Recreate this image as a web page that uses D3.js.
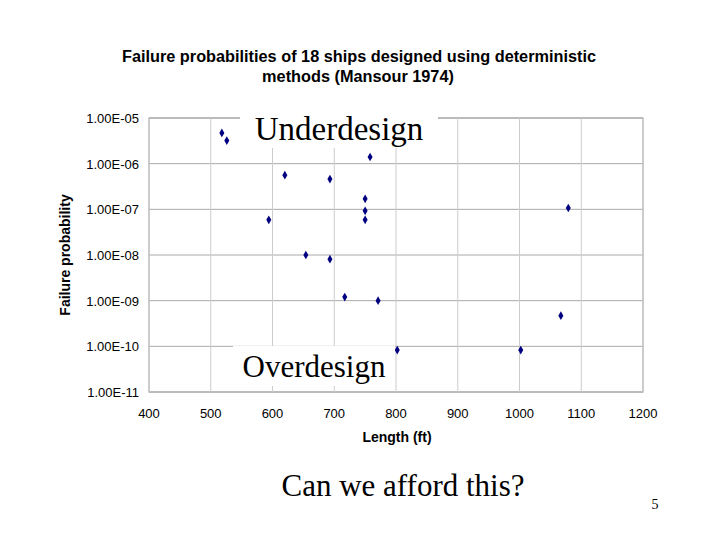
<!DOCTYPE html>
<html><head><meta charset="utf-8">
<script src="https://cdn.jsdelivr.net/npm/d3@7"></script>
<style>body{margin:0;background:#fff}</style>
</head><body>
<svg width="720" height="540"></svg>
<script>
var lengths = [518, 526, 758, 620, 693, 750, 750, 750, 1079, 594, 654, 693, 717, 771, 1067, 802, 1002];
var probs = [4.7e-6, 3.2e-6, 1.4e-6, 5.6e-7, 4.6e-7, 1.7e-7, 9.3e-8, 5.9e-8, 1.07e-7, 5.9e-8, 1.0e-8, 8.1e-9, 1.2e-9, 1.0e-9, 4.7e-10, 8.3e-11, 8.3e-11];
var xTicks = [400, 500, 600, 700, 800, 900, 1000, 1100, 1200];
var yTicks = [1e-5, 1e-6, 1e-7, 1e-8, 1e-9, 1e-10, 1e-11];
var yLabels = ["1.00E-05", "1.00E-06", "1.00E-07", "1.00E-08", "1.00E-09", "1.00E-10", "1.00E-11"];

var svg = d3.select("svg");
var x = d3.scaleLinear().domain([400, 1200]).range([149, 643]);
var y = d3.scaleLog().domain([1e-11, 1e-5]).range([392, 118]);

svg.append("rect").attr("x", 149).attr("y", 118).attr("width", 494).attr("height", 274)
  .attr("fill", "#fff").attr("stroke", "#999");

svg.selectAll(".gy").data(yTicks).enter().append("line")
  .attr("x1", 149).attr("x2", 643).attr("y1", d => y(d)).attr("y2", d => y(d)).attr("stroke", "#aaa");
svg.selectAll(".gx").data(xTicks).enter().append("line")
  .attr("y1", 118).attr("y2", 392).attr("x1", d => x(d)).attr("x2", d => x(d)).attr("stroke", "#ccc");

svg.selectAll(".yl").data(yTicks).enter().append("text")
  .attr("x", 139).attr("y", d => y(d) + 5).attr("text-anchor", "end")
  .attr("font-family", "Liberation Sans, Arial").attr("font-size", 13)
  .text((d, i) => yLabels[i]);
svg.selectAll(".xl").data(xTicks).enter().append("text")
  .attr("x", d => x(d)).attr("y", 418).attr("text-anchor", "middle")
  .attr("font-family", "Liberation Sans, Arial").attr("font-size", 13).text(d => d);

svg.selectAll("path.pt").data(lengths).enter().append("path").attr("class", "pt")
  .attr("d", d3.symbol(d3.symbolDiamond, 22))
  .attr("transform", (d, i) => "translate(" + x(d) + "," + y(probs[i]) + ")").attr("fill", "#000080");

svg.append("text").attr("x", 359).attr("y", 62).attr("text-anchor", "middle")
  .attr("font-family", "Liberation Sans, Arial").attr("font-weight", "bold").attr("font-size", 16.3)
  .text("Failure probabilities of 18 ships designed using deterministic");
svg.append("text").attr("x", 358).attr("y", 82).attr("text-anchor", "middle")
  .attr("font-family", "Liberation Sans, Arial").attr("font-weight", "bold").attr("font-size", 16.3)
  .text("methods (Mansour 1974)");
svg.append("text").attr("x", 397).attr("y", 442).attr("text-anchor", "middle")
  .attr("font-family", "Liberation Sans, Arial").attr("font-weight", "bold").attr("font-size", 14)
  .text("Length (ft)");
svg.append("text").attr("transform", "translate(70,255) rotate(-90)").attr("text-anchor", "middle")
  .attr("font-family", "Liberation Sans, Arial").attr("font-weight", "bold").attr("font-size", 14)
  .text("Failure probability");

svg.append("rect").attr("x", 240).attr("y", 110).attr("width", 198).attr("height", 38).attr("fill", "#fff");
svg.append("text").attr("x", 339).attr("y", 140).attr("text-anchor", "middle")
  .attr("font-family", "Liberation Serif, Times New Roman").attr("font-size", 33).text("Underdesign");
svg.append("rect").attr("x", 233).attr("y", 346).attr("width", 162).attr("height", 40).attr("fill", "#fff");
svg.append("text").attr("x", 314).attr("y", 377).attr("text-anchor", "middle")
  .attr("font-family", "Liberation Serif, Times New Roman").attr("font-size", 31).text("Overdesign");

svg.append("text").attr("x", 403).attr("y", 496).attr("text-anchor", "middle")
  .attr("font-family", "Liberation Serif, Times New Roman").attr("font-size", 31).text("Can we afford this?");
svg.append("text").attr("x", 655).attr("y", 509).attr("text-anchor", "middle")
  .attr("font-family", "Liberation Serif, Times New Roman").attr("font-size", 14).text("5");
</script>
</body></html>
